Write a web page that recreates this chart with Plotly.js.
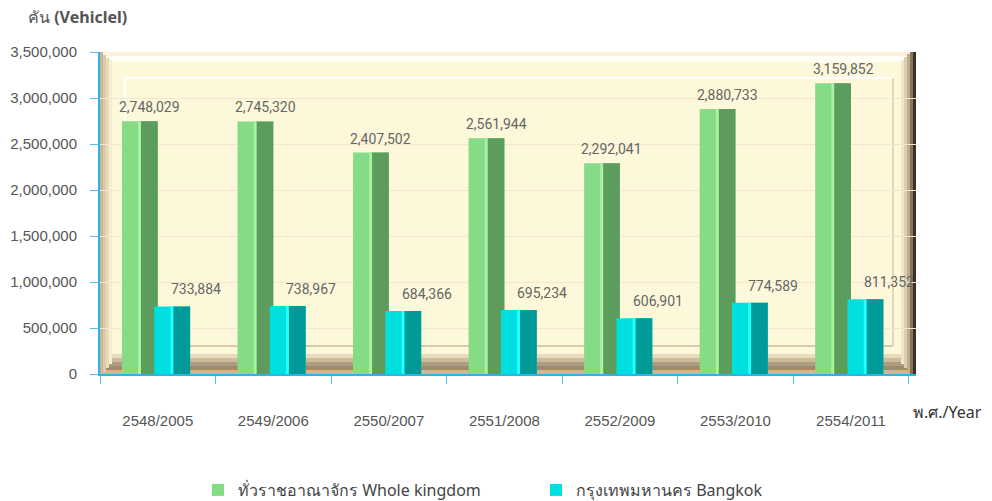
<!DOCTYPE html>
<html>
<head>
<meta charset="utf-8">
<script src="https://cdn.plot.ly/plotly-3.0.1.min.js"></script>
<style>html,body{margin:0;padding:0;background:#fff;}#chart{width:992px;height:501px;}</style>
</head>
<body>
<div id="chart"></div>
<script>
const categories = ["2548/2005","2549/2006","2550/2007","2551/2008","2552/2009","2553/2010","2554/2011"];
const wholeKingdom = [2748029, 2745320, 2407502, 2561944, 2292041, 2880733, 3159852];
const bangkok = [733884, 738967, 684366, 695234, 606901, 774589, 811352];
const seriesNames = ["ทั่วราชอาณาจักร Whole kingdom", "กรุงเทพมหานคร Bangkok"];
const yTickVals = [0, 500000, 1000000, 1500000, 2000000, 2500000, 3000000, 3500000];

const W = 992, H = 501;
const M = {l: 100, r: 76, t: 52, b: 127};
const PW = W - M.l - M.r, PH = H - M.t - M.b;
// pixel -> paper helpers for frame decoration
const px = x => (x - M.l) / PW;
const py = y => (H - M.b - y) / PH;
function rect(x0, y0, x1, y1, color) {
  return {type: 'rect', xref: 'paper', yref: 'paper', x0: px(x0), x1: px(x1), y0: py(y1), y1: py(y0),
    fillcolor: color, line: {width: 0}, layer: 'below'};
}
function line(x0, y0, x1, y1, color, w) {
  return {type: 'line', xref: 'paper', yref: 'paper', x0: px(x0), x1: px(x1), y0: py(y0), y1: py(y1),
    line: {color: color, width: w || 1}, layer: 'below'};
}

const shapes = [
  // top bevel
  rect(100, 52, 916, 56, '#FBF1DC'),
  rect(100, 56, 916, 62, '#FFFDF4'),
  // bottom bevel
  rect(100, 354, 916, 358, '#E9DCBE'),
  rect(100, 358, 916, 362, '#CDBC9A'),
  rect(100, 362, 916, 366, '#AE9D7F'),
  rect(100, 366, 916, 370, '#9C8B70'),
  rect(100, 370, 916, 374, '#C9B999'),
  // left bevel
  rect(100, 52, 103, 374, '#C9B898'),
  rect(103, 55, 106, 372, '#DCCBAA'),
  rect(106, 58, 109, 368, '#EADBBB'),
  rect(109, 60, 112, 364, '#F6EDD2'),
  // right bevel
  rect(913, 52, 916, 374, '#3A3024'),
  rect(910, 52, 913, 374, '#85765E'),
  rect(907, 54, 910, 372, '#BCAD8F'),
  rect(904, 57, 907, 368, '#DCCFB1'),
  rect(901, 60, 904, 364, '#EFE6CC'),
  // inner raised panel
  line(125, 78, 893, 78, '#FFFFFF', 2),
  line(125, 78, 125, 345, '#FFFFFF', 2),
  line(125, 346, 893, 346, '#D9C9A6', 2),
  line(893, 78, 893, 346, '#E4D6B8', 2)
];

// bar geometry in category units (one category = 1)
const bw = 0.31;
function face(y, name, color, offset, width, legend) {
  return {type: 'bar', x: categories, y: y, name: name, showlegend: legend, offset: offset, width: width,
    marker: {color: color, line: {width: 0}}, hoverinfo: 'skip'};
}
const traces = [
  face(wholeKingdom, seriesNames[0], '#86DB86', -bw, bw, true),
  face(wholeKingdom, seriesNames[0], '#5C9C5C', -bw + 0.163, bw - 0.163, false),
  face(wholeKingdom, seriesNames[0], '#A8F3A2', -bw + 0.14, 0.025, false),
  face(bangkok, seriesNames[1], '#00DFDF', -0.03, bw, true),
  face(bangkok, seriesNames[1], '#009A98', -0.03 + 0.163, bw - 0.163, false),
  face(bangkok, seriesNames[1], '#22FFFF', -0.03 + 0.14, 0.025, false)
];

const labelFont = {family: 'Roboto, "Liberation Sans", sans-serif', size: 14, color: '#666666'};
const annotations = [];
categories.forEach((c, i) => {
  annotations.push({x: c, y: wholeKingdom[i], xref: 'x', yref: 'y', text: wholeKingdom[i].toLocaleString('en-US'),
    showarrow: false, xshift: -8, yshift: 14, yanchor: 'middle', font: labelFont});
  annotations.push({x: c, y: bangkok[i], xref: 'x', yref: 'y', text: bangkok[i].toLocaleString('en-US'),
    showarrow: false, xshift: 38, yshift: 17, yanchor: 'middle', font: labelFont});
});
annotations.push({text: 'คัน <b>(Vehiclel)</b>', xref: 'paper', yref: 'paper', x: px(26), y: py(17),
  xanchor: 'left', yanchor: 'middle', showarrow: false,
  font: {family: '"Noto Sans", "Liberation Sans", sans-serif', size: 16, color: '#555555'}});
annotations.push({text: 'พ.ศ./Year', xref: 'paper', yref: 'paper', x: px(911), y: py(412),
  xanchor: 'left', yanchor: 'middle', showarrow: false,
  font: {family: '"Noto Sans", "Liberation Sans", sans-serif', size: 16, color: '#333333'}});

const layout = {
  width: W, height: H,
  margin: M,
  paper_bgcolor: '#FFFFFF',
  plot_bgcolor: '#FDF8DA',
  barmode: 'overlay',
  showlegend: true,
  legend: {orientation: 'h', xref: 'container', yref: 'container', x: 198 / W, y: 1 - 490 / H,
    xanchor: 'left', yanchor: 'middle', entrywidth: 293, itemwidth: 30, tracegroupgap: 0,
    font: {family: '"Noto Sans", "Liberation Sans", sans-serif', size: 16, color: '#444444'}},
  xaxis: {type: 'category', tickson: 'boundaries', ticks: 'outside', ticklen: 8, tickcolor: '#4FC3F0',
    showline: true, linecolor: '#2DB4E6', linewidth: 2, showgrid: false, ticklabelstandoff: 32,
    tickfont: {family: '"Liberation Sans", Arial, sans-serif', size: 15, color: '#555555'}},
  yaxis: {range: [0, 3500000], tickvals: yTickVals, tickformat: ',d', ticks: 'outside', ticklen: 8,
    tickcolor: '#4FC3F0', showline: true, linecolor: '#2DB4E6', linewidth: 2,
    showgrid: true, gridcolor: '#F6E4CE', gridwidth: 1, zeroline: false, ticklabelstandoff: 10,
    tickfont: {family: '"Liberation Sans", Arial, sans-serif', size: 15, color: '#555555'}},
  shapes: shapes,
  annotations: annotations
};

Plotly.newPlot('chart', traces, layout, {displayModeBar: false, staticPlot: true});
</script>
</body>
</html>
